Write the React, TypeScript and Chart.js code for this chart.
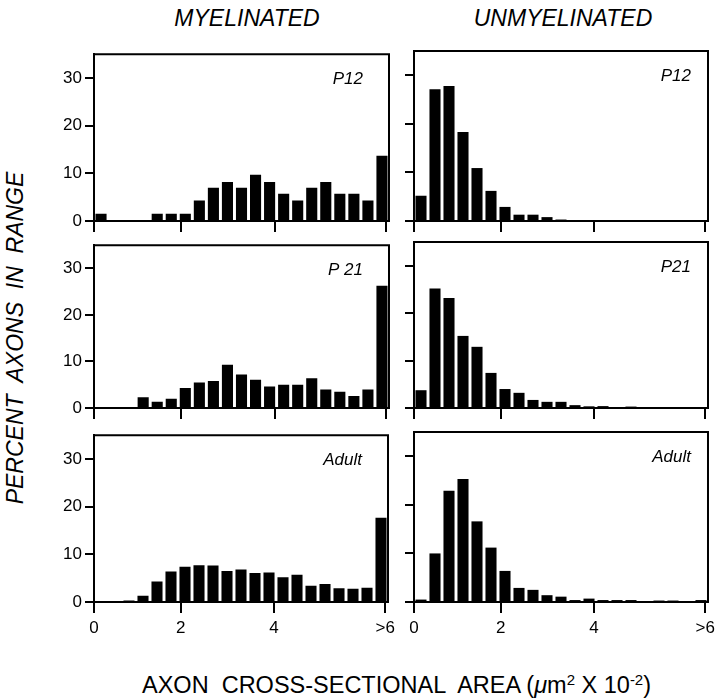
import React, { useEffect, useRef } from "react";
import { Chart, registerables } from "chart.js";

Chart.register(...registerables);

// ---- data ----
const BIN_CENTRES = [0.5, 1.5, 2.5, 3.5, 4.5, 5.5, 6.5, 7.5, 8.5, 9.5, 10.5, 11.5, 12.5, 13.5, 14.5, 15.5, 16.5, 17.5, 18.5, 19.5, 20.5];
const X_TICK_POS = [0, 6.2, 12.85, 20.8];
const X_TICK_LABELS = ["0", "2", "4", ">6"];
const Y_TICKS = [0, 10, 20, 30];

const MYEL_P12 = [1.5, 0, 0, 0, 1.5, 1.5, 1.5, 4.3, 7.0, 8.2, 7.0, 9.7, 8.2, 5.7, 4.3, 7.0, 8.2, 5.7, 5.7, 4.3, 13.7];
const MYEL_P21 = [0, 0, 0, 2.3, 1.35, 2.0, 4.3, 5.5, 5.8, 9.3, 7.2, 6.1, 4.6, 5.0, 5.0, 6.4, 4.0, 3.5, 2.6, 4.0, 26.3];
const MYEL_ADULT = [0.2, 0, 0.3, 1.3, 4.3, 6.4, 7.4, 7.7, 7.65, 6.5, 6.8, 6.1, 6.2, 5.2, 5.7, 3.4, 3.8, 2.9, 2.8, 3.0, 17.7];
const UNMYEL_P12 = [5.2, 27.1, 27.8, 18.3, 10.9, 6.2, 2.9, 1.3, 1.3, 0.8, 0.3, 0.2, 0.2, 0.1, 0.2, 0.2, 0, 0, 0, 0.1, 0.2];
const UNMYEL_P21 = [3.75, 25.2, 23.2, 15.2, 12.9, 7.4, 4.0, 3.2, 1.7, 1.3, 1.3, 0.6, 0.35, 0.4, 0.1, 0.3, 0, 0, 0, 0, 0];
const UNMYEL_ADULT = [0.5, 10.0, 22.9, 25.3, 16.6, 11.2, 6.4, 2.9, 2.5, 1.4, 1.1, 0.4, 0.7, 0.4, 0.4, 0.4, 0.2, 0.3, 0.3, 0.2, 0.4];

const COLUMN_TITLES = ["MYELINATED", "UNMYELINATED"];
const PANEL_LABELS = [["P12", "P 21", "Adult"], ["P12", "P21", "Adult"]];
const Y_TITLE = "PERCENT  AXONS  IN  RANGE";

const SERIES = [
  [MYEL_P12, MYEL_P21, MYEL_ADULT],
  [UNMYEL_P12, UNMYEL_P21, UNMYEL_ADULT],
];

// ---- layout ----
const FONT = "'Liberation Sans', Arial, Helvetica, sans-serif";
const COLS = [
  { left: 30, width: 370, yAxisW: 64, padRight: 11, showY: true, labelInset: 26 },
  { left: 400, width: 320, yAxisW: 14, padRight: 12, showY: false, labelInset: 17 },
];
const ROWS = [
  { top: 41, plotH: 170, xAxisH: 30, showX: false },
  { top: 232, plotH: 166, xAxisH: 30, showX: false },
  { top: 422, plotH: 170, xAxisH: 50, showX: true },
];
const PAD_TOP = 10;

const framePlugin = {
  id: "frame",
  afterDraw(chart: any, _args: any, opts: any) {
    const { ctx, chartArea } = chart;
    const { left, right, top, bottom } = chartArea;
    ctx.save();
    ctx.strokeStyle = "#000";
    ctx.lineWidth = 2;
    ctx.beginPath();
    ctx.moveTo(left - 1, top);
    ctx.lineTo(right, top);
    ctx.lineTo(right, bottom + 1);
    ctx.stroke();
    ctx.fillStyle = "#000";
    ctx.font = `italic 17px ${FONT}`;
    ctx.textAlign = "right";
    ctx.textBaseline = "middle";
    ctx.fillText(opts.label, right - opts.inset, top + 25);
    ctx.restore();
  },
};

function Panel({ col, row }: { col: number; row: number }) {
  const ref = useRef<HTMLCanvasElement>(null);
  const c = COLS[col];
  const r = ROWS[row];
  const h = PAD_TOP + r.plotH + r.xAxisH;
  useEffect(() => {
    const values = SERIES[col][row];
    const chart = new Chart(ref.current as HTMLCanvasElement, {
      type: "bar",
      data: {
        datasets: [
          {
            data: BIN_CENTRES.map((x, i) => ({ x, y: values[i] })),
            backgroundColor: "#000",
            borderWidth: 0,
            barPercentage: 0.79,
            categoryPercentage: 1,
          } as any,
        ],
      },
      options: {
        animation: false,
        responsive: false,
        maintainAspectRatio: false,
        events: [],
        layout: { padding: { top: PAD_TOP, right: c.padRight, left: 0, bottom: 0 } },
        plugins: {
          legend: { display: false },
          tooltip: { enabled: false },
          frame: { label: PANEL_LABELS[col][row], inset: c.labelInset },
        } as any,
        scales: {
          x: {
            type: "linear",
            min: 0,
            max: 21,
            offset: false,
            grid: { offset: false, drawOnChartArea: false, drawTicks: true, tickLength: 11, lineWidth: 2, color: "#000" },
            border: { display: true, color: "#000", width: 2 },
            ticks: {
              display: r.showX,
              color: "#000",
              font: { family: FONT, size: 17 },
              padding: 5,
              maxRotation: 0,
              autoSkip: false,
              callback: (_v: any, i: number) => X_TICK_LABELS[i],
            },
            afterBuildTicks: (s: any) => {
              s.ticks = X_TICK_POS.map((v) => ({ value: v }));
            },
            afterFit: (s: any) => {
              s.height = r.xAxisH;
            },
          } as any,
          y: {
            type: "linear",
            min: 0,
            max: 35,
            grid: { drawOnChartArea: false, drawTicks: true, tickLength: 9, lineWidth: 2, color: "#000" },
            border: { display: true, color: "#000", width: 2 },
            ticks: {
              display: c.showY,
              color: "#000",
              font: { family: FONT, size: 17 },
              padding: 3,
              callback: (v: any) => String(v),
            },
            afterBuildTicks: (s: any) => {
              s.ticks = Y_TICKS.map((v) => ({ value: v }));
            },
            afterFit: (s: any) => {
              s.width = c.yAxisW;
            },
          } as any,
        },
      },
      plugins: [framePlugin],
    });
    return () => chart.destroy();
  }, []);
  return (
    <canvas
      ref={ref}
      width={c.width}
      height={h}
      style={{ position: "absolute", left: c.left, top: r.top, width: c.width, height: h }}
    />
  );
}

export default function App() {
  const titleStyle: React.CSSProperties = {
    position: "absolute",
    top: 5,
    width: 240,
    textAlign: "center",
    fontFamily: FONT,
    fontStyle: "italic",
    fontSize: 23,
    lineHeight: "26px",
    color: "#000",
    whiteSpace: "pre",
  };
  return (
    <div style={{ position: "absolute", left: 0, top: 0, width: 720, height: 700, background: "#fff", overflow: "hidden" }}>
      <div style={{ ...titleStyle, left: 247 - 120 }}>{COLUMN_TITLES[0]}</div>
      <div style={{ ...titleStyle, left: 563 - 120 }}>{COLUMN_TITLES[1]}</div>
      <div
        style={{
          position: "absolute",
          left: 15 - 200,
          top: 338 - 13,
          width: 400,
          height: 26,
          lineHeight: "26px",
          textAlign: "center",
          transform: "rotate(-90deg)",
          fontFamily: FONT,
          fontStyle: "italic",
          fontSize: 23,
          whiteSpace: "pre",
          color: "#000",
        }}
      >
        {Y_TITLE}
      </div>
      <div
        style={{
          position: "absolute",
          left: 142,
          top: 672,
          fontFamily: FONT,
          fontSize: 23.5,
          lineHeight: "26px",
          whiteSpace: "pre",
          color: "#000",
        }}
      >
        {"AXON  CROSS-SECTIONAL  AREA ("}
        <i>μ</i>
        {"m"}
        <span style={{ fontSize: 15, verticalAlign: "8px", lineHeight: 0 }}>2</span>
        {" X 10"}
        <span style={{ fontSize: 15, verticalAlign: "8px", lineHeight: 0 }}>-2</span>
        {")"}
      </div>
      {[0, 1].map((col) => [0, 1, 2].map((row) => <Panel key={`${col}-${row}`} col={col} row={row} />))}
    </div>
  );
}
